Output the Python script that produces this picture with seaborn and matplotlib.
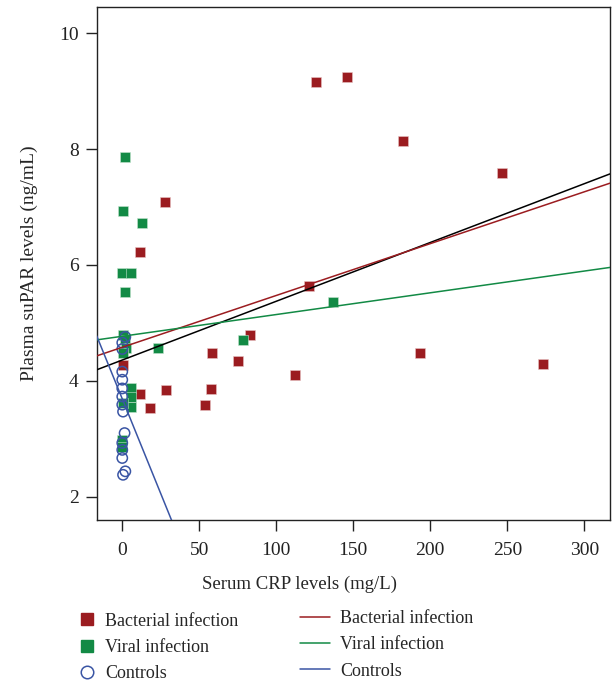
import matplotlib
matplotlib.use("Agg")
import matplotlib.pyplot as plt
from matplotlib.lines import Line2D
import seaborn as sns
import numpy as np
import pandas as pd

# CRP (mg/L) and suPAR (ng/mL) values
bact_crp = [27.5, 11.7, 83.1, 58.4, 74.9, 11.7, 28.2, 18.2, 57.4, 53.9, 0.5,
            126, 146, 182, 246.4, 121, 112, 193, 273.4]
bact_supar = [7.09, 6.23, 4.80, 4.48, 4.34, 3.77, 3.84, 3.53, 3.86, 3.58, 4.27,
              9.16, 9.24, 8.14, 7.59, 5.63, 4.10, 4.49, 4.29]

viral_crp = [2, 0.5, 12.6, 0, 5.5, 1.8, 23.2, 78.6, 137,
             0.5, 2, 2.5, 0.5, 5.5, 5.5, 5.5, 0.5, 0, 0]
viral_supar = [7.87, 6.93, 6.72, 5.87, 5.87, 5.53, 4.57, 4.71, 5.36,
               4.79, 4.71, 4.57, 4.48, 3.88, 3.72, 3.55, 3.62, 2.98, 2.86]

ctrl_crp = [2, 0, 0, 0, 0, 0, 0, 0, 0.5, 1.5, 0, 0, 0, 2, 0.5]
ctrl_supar = [4.76, 4.66, 4.55, 4.16, 4.02, 3.87, 3.73, 3.59, 3.47,
              3.10, 2.93, 2.81, 2.67, 2.44, 2.38]

# fitted lines: intercept, slope
fit_groups = ["Total", "Bacterial infection", "Viral infection", "Controls"]
fit_intercept = [4.36, 4.58, 4.77, 3.69]
fit_slope = [0.01014, 0.00894, 0.00375, -0.0654]

red = "#9b1c20"
green = "#128a45"
blue = "#3a55a4"
fit_colors = ["black", red, green, blue]

sns.set_style("ticks")
plt.rcParams["font.family"] = ["Liberation Serif", "DejaVu Serif"]

fig = plt.figure(figsize=(6.14, 6.82), dpi=100)
ax = fig.add_axes([0.1575, 0.2375, 0.836, 0.7522])

xlim = (-16.6, 316.7)
ylim = (1.60, 10.45)

sns.scatterplot(x=bact_crp, y=bact_supar, marker="s", s=52, color=red,
                edgecolor="#e8c4c4", linewidth=0.4, ax=ax, zorder=2)
sns.scatterplot(x=viral_crp, y=viral_supar, marker="s", s=52, color=green,
                edgecolor="#c4e4cf", linewidth=0.4, ax=ax, zorder=3)
sns.scatterplot(x=ctrl_crp, y=ctrl_supar, marker="o", s=55, color=blue,
                facecolors="none", edgecolor=blue, linewidth=1.1, ax=ax, zorder=4)

xs = np.array(xlim)
for name, a, b, c in zip(fit_groups, fit_intercept, fit_slope, fit_colors):
    df = pd.DataFrame({"x": xs, "y": a + b * xs})
    sns.lineplot(data=df, x="x", y="y", color=c, linewidth=1.1, ax=ax, zorder=5)

ax.set_xlim(*xlim)
ax.set_ylim(*ylim)
ax.set_xticks([0, 50, 100, 150, 200, 250, 300])
ax.set_yticks([2, 4, 6, 8, 10])
ax.tick_params(direction="out", length=8, width=1, pad=5, labelsize=14,
               colors="#222222")
ax.tick_params(axis="x", pad=8)
for sp in ax.spines.values():
    sp.set_visible(True)
    sp.set_linewidth(1)
    sp.set_color("#222222")

ax.set_xlabel("Serum CRP levels (mg/L)", fontsize=13.5)
ax.set_ylabel("Plasma suPAR levels (ng/mL)", fontsize=14)
ax.xaxis.set_label_coords(0.396, -0.108)
ax.yaxis.set_label_coords(-0.115, 0.5)

# legends below the plot
mk = [Line2D([], [], marker="s", linestyle="none", color=red, markersize=8),
      Line2D([], [], marker="s", linestyle="none", color=green, markersize=8),
      Line2D([], [], marker="o", linestyle="none", markerfacecolor="none",
             markeredgecolor=blue, markersize=9, markeredgewidth=1.1)]
ln = [Line2D([], [], color=red, linewidth=1.1),
      Line2D([], [], color=green, linewidth=1.1),
      Line2D([], [], color=blue, linewidth=1.1)]
labels = ["Bacterial infection", "Viral infection", "Controls"]
fig.legend(mk, labels, loc="upper left", bbox_to_anchor=(0.11, 0.115),
           frameon=False, fontsize=13, handlelength=1.2, handletextpad=0.4,
           labelspacing=0.52, borderpad=0)
fig.legend(ln, labels, loc="upper left", bbox_to_anchor=(0.474, 0.119),
           frameon=False, fontsize=13, handlelength=1.65, handletextpad=0.55,
           labelspacing=0.52, borderpad=0)

fig.savefig("out.png", dpi=100)
